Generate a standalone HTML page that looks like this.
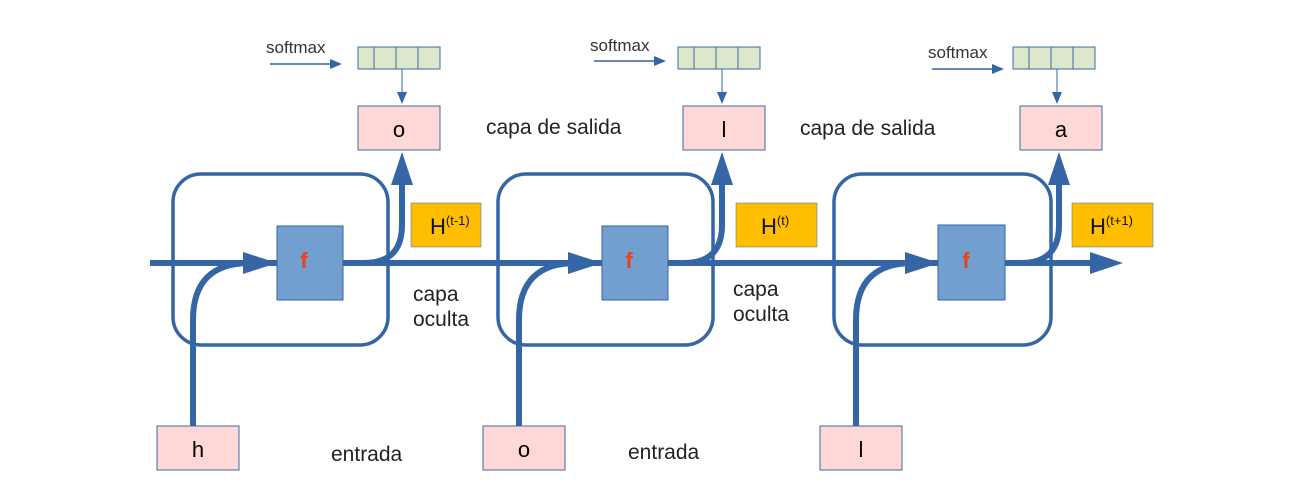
<!DOCTYPE html>
<html><head><meta charset="utf-8"><style>
body{margin:0;background:#fff}
svg{display:block;font-family:"Liberation Sans",sans-serif}
</style></head><body>
<svg width="1300" height="500" viewBox="0 0 1300 500">
<defs>
<g id="sm">
<rect x="0" y="0" width="82" height="22" fill="#dde7cb" stroke="#3d6aa6" stroke-width="1"/>
<line x1="16" y1="0" x2="16" y2="22" stroke="#3d6aa6"/>
<line x1="38" y1="0" x2="38" y2="22" stroke="#3d6aa6"/>
<line x1="60" y1="0" x2="60" y2="22" stroke="#3d6aa6"/>
</g>
</defs>
<g stroke="#3465a4" fill="none">
<!-- main line -->
<line x1="150" y1="263" x2="1095" y2="263" stroke-width="6"/>
<!-- rounded rects -->
<rect x="173" y="174" width="215" height="171" rx="28" stroke-width="3.5"/>
<rect x="498" y="174" width="215" height="171" rx="28" stroke-width="3.5"/>
<rect x="834" y="174" width="217" height="171" rx="28" stroke-width="3.5"/>
<!-- input curves -->
<path d="M193 427 V320 Q193 263 250 263" stroke-width="6"/>
<path d="M519 427 V320 Q519 263 576 263" stroke-width="6"/>
<path d="M856 427 V320 Q856 263 913 263" stroke-width="6"/>
<!-- up curves -->
<path d="M343 263 H364 Q402 263 402 225 V182" stroke-width="6"/>
<path d="M668 263 H684 Q722 263 722 225 V182" stroke-width="6"/>
<path d="M1005 263 H1021 Q1059 263 1059 225 V182" stroke-width="6"/>
<!-- softmax connector lines -->
<line x1="270" y1="64" x2="330" y2="64" stroke-width="1.5"/>
<line x1="594" y1="61" x2="654" y2="61" stroke-width="1.5"/>
<line x1="932" y1="69" x2="992" y2="69" stroke-width="1.5"/>
<line x1="402" y1="69" x2="402" y2="96" stroke-width="1"/>
<line x1="722" y1="69" x2="722" y2="96" stroke-width="1"/>
<line x1="1057" y1="69" x2="1057" y2="96" stroke-width="1"/>
</g>
<g fill="#3465a4">
<polygon points="243,252 277,263 243,274"/>
<polygon points="568,252 602,263 568,274"/>
<polygon points="905,252 939,263 905,274"/>
<polygon points="1090,252 1123,263 1090,274"/>
<polygon points="391,185 402,152 413,185"/>
<polygon points="711,185 722,152 733,185"/>
<polygon points="1048,185 1059,152 1070,185"/>
<polygon points="330,59 342,64 330,69"/>
<polygon points="654,56 666,61 654,66"/>
<polygon points="992,64 1004,69 992,74"/>
<polygon points="397,92 402,104 407,92"/>
<polygon points="717,92 722,104 727,92"/>
<polygon points="1052,92 1057,104 1062,92"/>
</g>
<!-- f boxes -->
<g fill="#729fcf" stroke="#3465a4" stroke-width="1">
<rect x="277" y="226" width="66" height="74"/>
<rect x="602" y="226" width="66" height="74"/>
<rect x="938" y="225" width="67" height="75"/>
</g>
<g fill="#e8431a" font-size="22" font-weight="bold" text-anchor="middle">
<text x="304" y="268">f</text><text x="629" y="268">f</text><text x="966" y="268">f</text>
</g>
<!-- softmax -->
<use href="#sm" x="358" y="47"/><use href="#sm" x="678" y="47"/><use href="#sm" x="1013" y="47"/>
<g fill="#333" font-size="17">
<text x="266" y="53">softmax</text><text x="590" y="51">softmax</text><text x="928" y="58">softmax</text>
</g>
<!-- output & input boxes -->
<g fill="#ffd7d7" stroke="#3d6aa6" stroke-width="1">
<rect x="358" y="106" width="82" height="44"/>
<rect x="683" y="106" width="82" height="44"/>
<rect x="1020" y="106" width="82" height="44"/>
<rect x="157" y="426" width="82" height="44"/>
<rect x="483" y="426" width="82" height="44"/>
<rect x="820" y="426" width="82" height="44"/>
</g>
<g fill="#000" font-size="22" text-anchor="middle">
<text x="399" y="137">o</text><text x="724" y="137">l</text><text x="1061" y="137">a</text>
<text x="198" y="457">h</text><text x="524" y="457">o</text><text x="861" y="457">l</text>
</g>
<!-- H boxes -->
<g fill="#ffbf00" stroke="#3d6aa6" stroke-width="0.5">
<rect x="411" y="203" width="70" height="44"/>
<rect x="736" y="203" width="81" height="44"/>
<rect x="1072" y="203" width="81" height="44"/>
</g>
<g fill="#111" font-size="22">
<text x="430" y="234">H<tspan font-size="13" dy="-9">(t-1)</tspan></text>
<text x="761" y="234">H<tspan font-size="13" dy="-9">(t)</tspan></text>
<text x="1090" y="234">H<tspan font-size="13" dy="-9">(t+1)</tspan></text>
</g>
<g fill="#222" font-size="21">
<text x="486" y="134">capa de salida</text>
<text x="800" y="135">capa de salida</text>
<text x="413" y="301">capa</text><text x="413" y="326">oculta</text>
<text x="733" y="296">capa</text><text x="733" y="321">oculta</text>
<text x="331" y="461">entrada</text>
<text x="628" y="459">entrada</text>
</g>
</svg>
</body></html>
